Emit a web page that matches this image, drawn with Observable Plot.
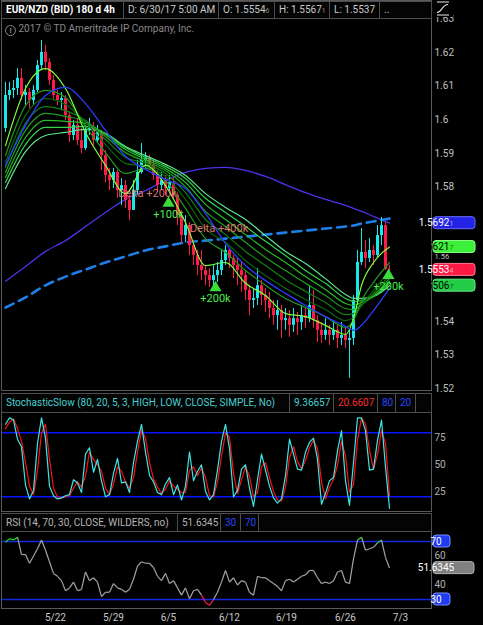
<!DOCTYPE html>
<html><head><meta charset="utf-8">
<script src="https://cdn.jsdelivr.net/npm/d3@7"></script>
<script src="https://cdn.jsdelivr.net/npm/@observablehq/plot@0.6"></script>
<style>
html,body{margin:0;padding:0;background:#000;}
#root{position:relative;width:483px;height:625px;background:#000;overflow:hidden;font-family:Roboto,"Open Sans",sans-serif;}
.pane{position:absolute;left:0;}
.cell{position:absolute;box-sizing:border-box;border:1px solid #4d4d4d;background:#040404;color:#c9c9c9;font-size:10px;padding-left:4px;white-space:nowrap;overflow:hidden;}
.frame{position:absolute;box-sizing:border-box;border:1px solid #5a5a5a;pointer-events:none;}
.small{font-size:7px;opacity:0.65;}
</style></head>
<body>
<div id="root">
  <div class="frame" style="left:1px;top:0;width:431px;height:391px"></div>
  <div class="frame" style="left:1px;top:393px;width:431px;height:119px"></div>
  <div class="frame" style="left:1px;top:513px;width:431px;height:96px"></div>
  <div id="price" class="pane" style="top:0"></div>
  <div id="stoch" class="pane" style="top:392px"></div>
  <div id="rsi" class="pane" style="top:512px"></div>

  <div class="cell" style="left:1px;top:1px;width:123px;height:18px;line-height:16px;color:#fff;font-weight:bold">EUR/NZD (BID) 180 d 4h</div>
  <div class="cell" style="left:123px;top:1px;width:96px;height:18px;line-height:16px">D: 6/30/17 5:00 AM</div>
  <div class="cell" style="left:218px;top:1px;width:57px;height:18px;line-height:16px">O: 1.5554<span class="small">6</span></div>
  <div class="cell" style="left:274px;top:1px;width:56px;height:18px;line-height:16px">H: 1.5567<span class="small">1</span></div>
  <div class="cell" style="left:329px;top:1px;width:51px;height:18px;line-height:16px">L: 1.5537</div>
  <div class="cell" style="left:379px;top:1px;width:53px;height:18px;line-height:16px">..</div>
  <div style="position:absolute;left:5px;top:23px;color:#8a8a8a;font-size:10px;white-space:nowrap;line-height:12px">
    <span style="display:inline-block;width:9px;height:9px;border:1px solid #8a8a8a;border-radius:50%;font-size:8px;line-height:9px;text-align:center;vertical-align:-1px;font-weight:bold">!</span>
    2017 © TD Ameritrade IP Company, Inc.</div>
  <svg style="position:absolute;left:433px;top:0" width="20" height="17"><rect width="20" height="17" fill="#000"/><path d="M4 2H16M4 15H16M4 12.5C9 12.5 9 4.5 15 4.5" stroke="#eee" fill="none" stroke-width="1.2"/></svg>

  <div class="cell" style="left:1px;top:393px;width:289px;height:20px;line-height:18px;color:#45d0d0">StochasticSlow (80, 20, 5, 3, HIGH, LOW, CLOSE, SIMPLE, No)</div>
  <div class="cell" style="left:289px;top:393px;width:45px;height:20px;line-height:18px;color:#45d0d0">9.36657</div>
  <div class="cell" style="left:333px;top:393px;width:45px;height:20px;line-height:18px;color:#ff2a2a">20.6607</div>
  <div class="cell" style="left:377px;top:393px;width:19px;height:20px;line-height:18px;color:#2a44ff">80</div>
  <div class="cell" style="left:395px;top:393px;width:21px;height:20px;line-height:18px;color:#2a44ff">20</div>
  <div class="cell" style="left:415px;top:393px;width:17px;height:20px;line-height:18px"></div>

  <div class="cell" style="left:1px;top:513px;width:177px;height:19px;line-height:17px;color:#b4b4b4">RSI (14, 70, 30, CLOSE, WILDERS, no)</div>
  <div class="cell" style="left:177px;top:513px;width:44px;height:19px;line-height:17px;color:#b4b4b4">51.6345</div>
  <div class="cell" style="left:220px;top:513px;width:21px;height:19px;line-height:17px;color:#2a44ff">30</div>
  <div class="cell" style="left:240px;top:513px;width:19px;height:19px;line-height:17px;color:#2a44ff">70</div>
  <div class="cell" style="left:258px;top:513px;width:174px;height:19px;line-height:17px"></div>
</div>
<script>
// ---------- DATA ----------
const firstOpen = 1.5974;
const closes = [
1.6072,1.6087,1.6093,1.6123,1.6072,1.6081,1.6057,1.6087,1.6161,1.6200,
1.6170,1.6117,1.6072,1.6057,1.6063,1.6012,1.5953,1.5983,1.5938,1.5914,
1.5968,1.5974,1.5938,1.5962,1.5893,1.5834,1.5819,1.5843,1.5789,1.5804,
1.5760,1.5730,1.5789,1.5843,1.5879,1.5885,1.5864,1.5834,1.5804,1.5819,
1.5795,1.5813,1.5775,1.5715,1.5655,1.5685,1.5625,1.5596,1.5566,1.5551,
1.5536,1.5521,1.5536,1.5551,1.5581,1.5611,1.5587,1.5566,1.5551,1.5536,
1.5492,1.5462,1.5468,1.5506,1.5477,1.5462,1.5438,1.5417,1.5432,1.5402,
1.5408,1.5388,1.5408,1.5396,1.5417,1.5408,1.5447,1.5402,1.5373,1.5358,
1.5373,1.5358,1.5373,1.5349,1.5358,1.5343,1.5349,1.5462,1.5575,1.5605,
1.5587,1.5611,1.5596,1.5655,1.5685,1.5554,1.5553];
const highs = [
1.6111,1.6111,1.6117,1.6152,1.6152,1.6102,1.6093,1.6102,1.6176,1.6236,
1.6221,1.6182,1.6132,1.6087,1.6081,1.6072,1.6021,1.5998,1.6004,1.5974,
1.5983,1.6004,1.5992,1.5983,1.5968,1.5908,1.5855,1.5855,1.5849,1.5825,
1.5819,1.5775,1.5819,1.5879,1.5929,1.5902,1.5893,1.5879,1.5849,1.5843,
1.5834,1.5834,1.5825,1.5783,1.5730,1.5715,1.5694,1.5640,1.5611,1.5611,
1.5566,1.5557,1.5566,1.5575,1.5611,1.5625,1.5617,1.5596,1.5587,1.5575,
1.5551,1.5506,1.5498,1.5557,1.5521,1.5498,1.5486,1.5462,1.5462,1.5447,
1.5438,1.5432,1.5438,1.5426,1.5447,1.5438,1.5506,1.5492,1.5417,1.5396,
1.5408,1.5388,1.5402,1.5388,1.5396,1.5379,1.5373,1.5477,1.5611,1.5676,
1.5640,1.5646,1.5625,1.5685,1.5709,1.5694,1.5567];
const lows = [
1.5962,1.6057,1.6063,1.6072,1.6057,1.6042,1.6033,1.6042,1.6081,1.6146,
1.6146,1.6102,1.6057,1.6042,1.6027,1.5998,1.5932,1.5938,1.5923,1.5899,
1.5908,1.5953,1.5923,1.5932,1.5849,1.5813,1.5789,1.5795,1.5766,1.5745,
1.5736,1.5700,1.5730,1.5775,1.5838,1.5855,1.5849,1.5819,1.5783,1.5789,
1.5775,1.5789,1.5760,1.5685,1.5634,1.5634,1.5596,1.5566,1.5536,1.5521,
1.5506,1.5500,1.5506,1.5515,1.5536,1.5566,1.5557,1.5527,1.5506,1.5486,
1.5462,1.5417,1.5438,1.5447,1.5447,1.5426,1.5408,1.5388,1.5373,1.5349,
1.5373,1.5352,1.5367,1.5358,1.5373,1.5379,1.5396,1.5379,1.5337,1.5334,
1.5343,1.5328,1.5343,1.5319,1.5328,1.5319,1.5230,1.5328,1.5447,1.5566,
1.5557,1.5575,1.5566,1.5590,1.5625,1.5551,1.5537];

// moving averages, read at these bar indexes
const maIdx = [0,5,10,15,20,25,30,35,40,45,50,55,60,65,70,75,80,85,87,89,92,96];
const ema1 = [1.5923,1.6093,1.6152,1.6093,1.5962,1.5864,1.5780,1.5864,1.5804,1.5694,1.5566,1.5575,1.5513,1.5477,1.5423,1.5414,1.5388,1.5361,1.5408,1.5507,1.5575,1.5621];
const ema2 = [1.5893,1.6042,1.6087,1.6066,1.5980,1.5902,1.5840,1.5855,1.5819,1.5736,1.5646,1.5605,1.5551,1.5507,1.5468,1.5441,1.5414,1.5382,1.5402,1.5462,1.5516,1.5575];
const ema3 = [1.5873,1.6013,1.6063,1.6045,1.5992,1.5926,1.5870,1.5861,1.5831,1.5763,1.5676,1.5635,1.5581,1.5536,1.5498,1.5465,1.5435,1.5402,1.5411,1.5447,1.5492,1.5551];
const ema4 = [1.5858,1.5989,1.6039,1.6027,1.5998,1.5941,1.5888,1.5870,1.5840,1.5783,1.5703,1.5658,1.5608,1.5566,1.5524,1.5489,1.5456,1.5420,1.5423,1.5447,1.5483,1.5536];
const ema5 = [1.5843,1.5968,1.6019,1.6010,1.5995,1.5950,1.5902,1.5876,1.5849,1.5801,1.5727,1.5682,1.5635,1.5590,1.5551,1.5513,1.5477,1.5438,1.5435,1.5450,1.5477,1.5527];
const ema6 = [1.5828,1.5947,1.5998,1.5995,1.5989,1.5956,1.5911,1.5882,1.5855,1.5813,1.5748,1.5703,1.5658,1.5614,1.5575,1.5533,1.5495,1.5453,1.5447,1.5456,1.5474,1.5519];
const ema7 = [1.5813,1.5926,1.5977,1.5977,1.5980,1.5959,1.5917,1.5888,1.5861,1.5825,1.5766,1.5724,1.5682,1.5638,1.5596,1.5551,1.5513,1.5468,1.5459,1.5462,1.5474,1.5513];
const ema8 = [1.5795,1.5905,1.5953,1.5962,1.5971,1.5959,1.5920,1.5893,1.5867,1.5834,1.5780,1.5739,1.5703,1.5655,1.5608,1.5572,1.5527,1.5480,1.5468,1.5468,1.5474,1.5506];
const midMA = [1.5864,1.5983,1.6072,1.6096,1.6048,1.5968,1.5891,1.5852,1.5822,1.5795,1.5721,1.5632,1.5566,1.5521,1.5483,1.5447,1.5414,1.5385,1.5373,1.5388,1.5432,1.5498];
const longMA = [1.5519,1.5563,1.5608,1.5640,1.5682,1.5724,1.5763,1.5789,1.5819,1.5843,1.5855,1.5858,1.5849,1.5831,1.5807,1.5783,1.5763,1.5745,1.5736,1.5727,1.5712,1.5692];
const dashMA = [1.5441,1.5471,1.5507,1.5533,1.5554,1.5575,1.5593,1.5611,1.5623,1.5635,1.5640,1.5646,1.5652,1.5658,1.5664,1.5670,1.5676,1.5682,1.5685,1.5691,1.5697,1.5706];

const deltaIdx = [35.5, 53.4];
const deltaPrice = [1.5780, 1.5676];
const deltaText = ["Delta +200k", "Delta +400k"];
const signalIdx = [40.75, 52.5, 95.75];
const signalPrice = [1.5751, 1.5500, 1.5536];
const signalText = ["+100k", "+200k", "+200k"];

// 1.57 and 1.55 sit under the last-value tags and are not shown; 1.56 peeks out between tags
const priceTicks = [1.52,1.53,1.54,1.58,1.59,1.60,1.61,1.62,1.63];
const priceTicksLow = [1.56];
const priceTagValues = [1.5692, 1.5621, 1.5553, 1.5506];
const priceTagFrac = ["1", "7", "4", "7"];

const stochK = [88,94,92,74,67,31,18,26,70,94, 75,30,21,18,19,21,22,36,33,24, 60,66,43,55,35,20,22,42,56,33, 34,24,52,72,88,62,40,34,24,22, 32,38,22,31,17,30,62,35,44,50, 25,17,22,45,72,88,65,20,26,46, 50,28,11,36,60,45,30,19,14,18, 40,74,60,46,45,62,71,75,55,13, 23,35,38,63,82,35,12,52,94,94, 82,45,46,73,92,48,9.37];
const stochD = [84,90,93,84,72,52,30,22,45,80, 88,55,28,20,19,20,21,28,34,29, 40,62,55,50,44,28,22,32,48,44, 34,28,38,62,82,75,52,37,29,23, 27,35,30,27,24,24,45,48,40,47, 38,21,20,34,58,80,76,42,23,36, 48,39,20,24,48,52,38,25,17,16, 29,57,67,53,46,54,66,73,65,34, 18,29,36,50,72,58,24,32,73,94, 88,63,46,60,82,70,20.66];
const stochLevels = [80, 20];
const stochTicks = [25, 50, 75];

const rsi = [69.5,72,71,73,61,61,55,60,65,71, 64,56,48,46,43,36,38,42,36,37, 49,43,45,42,32,35,35,41,38,37, 35,37,44,53,56,55,55,52,46,43, 48,41,43,38,33,38,30.5,36,37,33, 28,26,30,35,42,50,42,45,40,43, 42,35,33,46,45,45,43,41,39,36, 43,44,42,44,46,47,50,50,45,41, 42,41,43,49,50,42,41,58,71,73, 64,65,66,69,71,59,51.63];
const rsiLevels = [70, 30];
const rsiTicks = [40, 60];
const rsiLast = 51.6345;

const dateTickIdx = [12.5, 27, 40.75, 56, 70.25, 85, 98.75];
const dateTickLabels = ["5/22", "5/29", "6/5", "6/12", "6/19", "6/26", "7/3"];

// ---------- BUILD ----------
const upColor = "#18e8ea", downColor = "#ff1a48";
const opens = [firstOpen, ...closes.slice(0, -1)];
const bars = closes.map((c, i) => ({i, o: opens[i], h: highs[i], l: lows[i], c, col: c >= opens[i] ? upColor : downColor}));
const series = arr => maIdx.map((k, j) => ({k, p: arr[j]}));
const emas = [ema1, ema2, ema3, ema4, ema5, ema6, ema7, ema8];
const emaColors = ["#7dff3a", "#1f9a1f", "#0c640c", "#137f13", "#1ca21c", "#25bd28", "#36d24a", "#5ee68e"];
const xOpt = {domain: [-0.75, 106.5], range: [2, 431], axis: null};
const baseStyle = {background: "transparent", color: "#bdbdbd", fontFamily: "Roboto, sans-serif", fontSize: "10px", overflow: "visible"};
const fmt2 = d => String(+d.toFixed(2));

const priceMarks = [
  Plot.line(series(longMA), {x: "k", y: "p", stroke: "#4b33ea", strokeWidth: 1.3, curve: "monotone-x"}),
  Plot.line(series(dashMA), {x: "k", y: "p", stroke: "#1f7fe8", strokeWidth: 2.6, strokeDasharray: "9,6", curve: "monotone-x"}),
  Plot.ruleX(bars, {x: "i", y1: "l", y2: "h", stroke: "col", strokeWidth: 1}),
  Plot.ruleX(bars, {x: "i", y1: "o", y2: "c", stroke: "col", strokeWidth: 3})
];
for (let j = emas.length - 1; j >= 0; j--) {
  priceMarks.push(Plot.line(series(emas[j]), {x: "k", y: "p", stroke: emaColors[j], strokeWidth: 1.2, curve: "monotone-x"}));
}
priceMarks.push(
  Plot.line(series(midMA), {x: "k", y: "p", stroke: "#2a3cff", strokeWidth: 1.3, curve: "monotone-x"}),
  Plot.text(deltaText, {x: (d, i) => deltaIdx[i], y: (d, i) => deltaPrice[i], text: d => d, fill: "#ff8a80", fillOpacity: 0.85, fontSize: 11}),
  Plot.dot(signalText, {x: (d, i) => signalIdx[i], y: (d, i) => signalPrice[i], symbol: "triangle", r: 4.5, fill: "#3ddc3d"}),
  Plot.text(signalText, {x: (d, i) => signalIdx[i], y: (d, i) => signalPrice[i], text: d => d, dy: 11, fill: "#4dee4d", fontSize: 11}),
  Plot.axisY(priceTicks, {anchor: "right", tickSize: 0, tickPadding: 3, textAnchor: "start", tickFormat: fmt2, fill: "#c0c0c0"}),
  Plot.text(priceTicksLow, {y: d => d, frameAnchor: "right", dx: 3, dy: 2.5, textAnchor: "start", text: fmt2, fill: "#c0c0c0", fontSize: 7.5})
);

const pricePlot = Plot.plot({
  width: 483, height: 392, marginLeft: 2, marginRight: 52, marginTop: 0, marginBottom: 2,
  x: xOpt, y: {domain: [1.52, 1.63], range: [388, 18.4]}, color: {type: "identity"},
  style: baseStyle, marks: priceMarks
});
document.getElementById("price").appendChild(pricePlot);

function addTags(plot, values, labels, fracs, fills, strokes, texts, widths) {
  const ys = plot.scale("y");
  const g = d3.select(plot).append("g").attr("font-family", "Roboto, sans-serif");
  values.forEach((v, i) => {
    const y = ys.apply(v);
    g.append("rect").attr("x", 433).attr("y", y - 6).attr("width", widths[i]).attr("height", 12).attr("rx", 3)
      .attr("fill", fills[i]).attr("stroke", strokes[i]);
    const t = g.append("text").attr("x", 436).attr("y", y).attr("dy", "0.36em").attr("fill", texts[i]).attr("font-size", 10);
    t.append("tspan").text(labels[i]);
    if (fracs[i]) t.append("tspan").attr("font-size", 7).attr("fill-opacity", 0.6).text(fracs[i]);
  });
}
addTags(pricePlot, priceTagValues, priceTagValues.map(v => v.toFixed(4)), priceTagFrac,
  ["#2323e6", "#3cf03a", "#ff1a44", "#22cc44"], ["#6a6aff", "#8bff88", "#ff7a90", "#6ae88a"],
  ["#ffffff", "#000000", "#ffffff", "#000000"], [42, 42, 42, 42]);

// Stochastic
const stochPlot = Plot.plot({
  width: 483, height: 120, marginLeft: 2, marginRight: 52, marginTop: 21, marginBottom: 1,
  x: xOpt, y: {domain: [0, 100], range: [125.6, 19]}, style: baseStyle,
  marks: [
    Plot.ruleY(stochLevels, {stroke: "#0a14ff", strokeWidth: 1.5}),
    Plot.line(stochD, {x: (d, i) => i, y: d => d, stroke: "#ff1010", strokeWidth: 1.2}),
    Plot.line(stochK, {x: (d, i) => i, y: d => d, stroke: "#3fe6e6", strokeWidth: 1.2}),
    Plot.axisY(stochTicks, {anchor: "right", tickSize: 0, tickPadding: 3, textAnchor: "start", fill: "#b0b0b0"})
  ]
});
document.getElementById("stoch").appendChild(stochPlot);

// RSI
const segs = rsi.slice(0, -1).map((a, i) => {
  const b = rsi[i + 1];
  const col = (Math.max(a, b) > 70.5 && Math.min(a, b) > 66) ? "#19e619" : (Math.min(a, b) < 29.5 && Math.max(a, b) < 34) ? "#ff1a48" : "#a4a4a4";
  return {x1: i, y1: a, x2: i + 1, y2: b, col};
});
const tickMap = new Map(dateTickIdx.map((d, i) => [d, dateTickLabels[i]]));
const rsiPlot = Plot.plot({
  width: 483, height: 113, marginLeft: 2, marginRight: 52, marginTop: 21, marginBottom: 17,
  x: xOpt, y: {domain: [30, 70], range: [87, 29]}, color: {type: "identity"}, style: baseStyle,
  marks: [
    Plot.ruleY(rsiLevels, {stroke: "#1428e0", strokeWidth: 1.3}),
    Plot.link(segs, {x1: "x1", y1: "y1", x2: "x2", y2: "y2", stroke: "col", strokeWidth: 1.2}),
    Plot.axisY(rsiTicks, {anchor: "right", tickSize: 0, tickPadding: 3, textAnchor: "start", fill: "#b0b0b0"}),
    Plot.axisX(dateTickIdx, {anchor: "bottom", tickSize: 0, tickPadding: 5, tickFormat: d => tickMap.get(d), fill: "#c8c8c8"})
  ]
});
document.getElementById("rsi").appendChild(rsiPlot);
addTags(rsiPlot, [70, rsiLast, 30], ["70", rsiLast.toFixed(4), "30"], ["", "", ""],
  ["#1f3cf0", "#808080", "#1f3cf0"], ["#7a8cff", "#b0b0b0", "#7a8cff"], ["#ffffff", "#ffffff", "#ffffff"], [17, 41, 17]);
</script>
</body></html>
